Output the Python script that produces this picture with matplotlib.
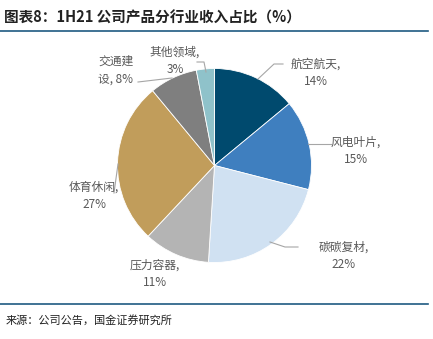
import matplotlib.pyplot as plt
from matplotlib.lines import Line2D

plt.rcParams['font.family'] = ['Noto Sans CJK SC', 'DejaVu Sans']

# Data
categories = ['航空航天', '风电叶片', '碳碳复材', '压力容器', '体育休闲', '交通建设', '其他领域']
shares = [14, 15, 22, 11, 27, 8, 3]
colors = ['#004a6e', '#3f7fbf', '#d0e1f2', '#b4b4b4', '#c19d5b', '#7f7f7f', '#8fc2ca']
label_texts = ['航空航天,\n14%', '风电叶片,\n15%', '碳碳复材,\n22%', '压力容器,\n11%',
               '体育休闲,\n27%', '交通建\n设, 8%', '其他领域,\n3%']

W, H = 433, 339


def py(y):
    # pixel row (from top) -> axes data y
    return H - y


fig = plt.figure(figsize=(W / 100, H / 100), dpi=100)
ax = fig.add_axes([0, 0, 1, 1])

cx, cy, r = 214.5, py(165.5), 97
ax.pie(shares, colors=colors, startangle=90, counterclock=False,
       center=(cx, cy), radius=r, frame=True,
       wedgeprops=dict(edgecolor='white', linewidth=0.6))
ax.set_xlim(0, W)
ax.set_ylim(0, H)
ax.set_aspect('equal')
ax.axis('off')

# label text positions (center, pixel coords) and leader lines
label_pos = [(316, 73), (356, 151), (344, 256), (155, 274), (94, 196), (116, 70), (175, 61)]
leaders = [
    [(283, 64), (274, 64), (258, 79)],
    [(331, 144), (308, 144)],
    [(298, 247), (285, 247), (270, 242)],
    None,
    [(114, 193), (118, 164)],
    [(138, 82), (172, 78)],
    [(197, 62), (204, 62), (206, 72)],
]

for txt, (x, y) in zip(label_texts, label_pos):
    ax.text(x, py(y), txt, ha='center', va='center', fontsize=8.5, color='#595959',
            linespacing=1.45)

for pts in leaders:
    if pts is None:
        continue
    xs = [p[0] for p in pts]
    ys = [py(p[1]) for p in pts]
    ax.plot(xs, ys, color='#a6a6a6', lw=0.8)

# title and rules
ax.text(4, py(17), '图表8：1H21 公司产品分行业收入占比（%）', ha='left', va='center',
        fontsize=10.5, fontweight='bold', color='#222222')
ax.add_line(Line2D([0, 428], [py(31), py(31)], color='#1f5a82', lw=1.2))
ax.add_line(Line2D([0, 428], [py(304), py(304)], color='#1f5a82', lw=1.2))
ax.text(6, py(320), '来源：公司公告，国金证券研究所', ha='left', va='center',
        fontsize=8, color='#222222')

fig.savefig('out.png', dpi=100)
